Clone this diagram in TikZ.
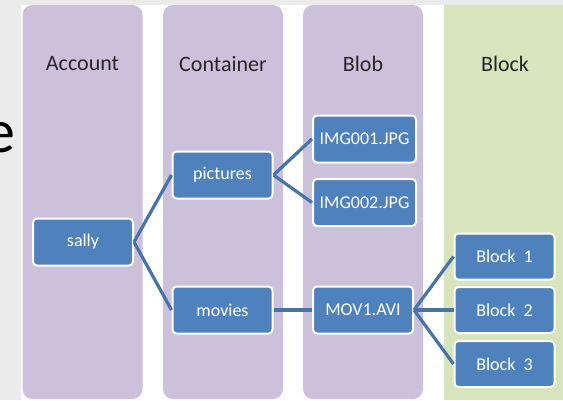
\documentclass[tikz,border=0pt]{standalone}
\usepackage{fontspec}
\setmainfont{Carlito}
\definecolor{lav}{HTML}{CCC1DA}
\definecolor{grn}{HTML}{D7E4BD}
\definecolor{nodeblue}{HTML}{4F81BD}
\definecolor{linkblue}{HTML}{4674AA}
\definecolor{bggray}{HTML}{EBEBEB}
\begin{document}
\begin{tikzpicture}[x=1pt,y=-1pt,
  col/.style={fill=lav, rounded corners=10pt},
  hdr/.style={font=\fontsize{22}{26}\selectfont, text=black!85},
  item/.style={draw=white, line width=2pt, fill=nodeblue, rounded corners=4pt,
    minimum width=100pt, minimum height=47pt, text=white, inner sep=0pt,
    font=\fontsize{18}{21}\selectfont},
  link/.style={draw=linkblue, line width=3.2pt}]
\useasboundingbox (0,0) rectangle (563,400);
\fill[bggray] (0,0) rectangle (563,400);
\fill[white] (21,5) rectangle (563,400);
\begin{scope}
\clip (0,0) rectangle (21,400);
\node[anchor=base east, inner sep=0pt, font=\fontsize{62}{70}\selectfont, text=black] (ee) at (16,152) {e};
\end{scope}
% columns
\fill[col] (22.5,5) rectangle (142.5,399);
\fill[col] (163,5) rectangle (283,399);
\fill[col] (303,5) rectangle (423,399);
\fill[grn] (444,5) rectangle (563,400);
% headers
\node[hdr] (hA) at (82.5,64) {Account};
\node[hdr] (hC) at (223,64) {Container};
\node[hdr] (hB) at (363,64) {Blob};
\node[hdr] (hK) at (505,64) {Block};
% links
\coordinate (sE) at (133,242);
\coordinate (pW) at (172,175);
\coordinate (mW) at (172,310);
% items
\node[item] (sally) at (83,242) {sally};
\node[item] (pic) at (222.5,175) {pictures};
\node[item] (mov) at (222.5,310) {movies};
\node[item, minimum width=103pt] (img1) at (364.5,139) {IMG001.JPG};
\node[item, minimum width=103pt] (img2) at (364.5,202.5) {IMG002.JPG};
\node[item] (avi) at (363,310) {MOV1.AVI};
\node[item, minimum height=46pt] (b1) at (504.5,256.5) {Block~~1};
\node[item, minimum height=46pt] (b2) at (504.5,310) {Block~~2};
\node[item, minimum height=46pt] (b3) at (504.5,364) {Block~~3};
\draw[link] (sally.east) -- (pic.west);
\draw[link] (sally.east) -- (mov.west);
\draw[link] (pic.east) -- (img1.west);
\draw[link] (pic.east) -- (img2.west);
\draw[link] (mov.east) -- (avi.west);
\draw[link] (avi.east) -- (b1.west);
\draw[link] (avi.east) -- (b2.west);
\draw[link] (avi.east) -- (b3.west);
\end{tikzpicture}
\end{document}
